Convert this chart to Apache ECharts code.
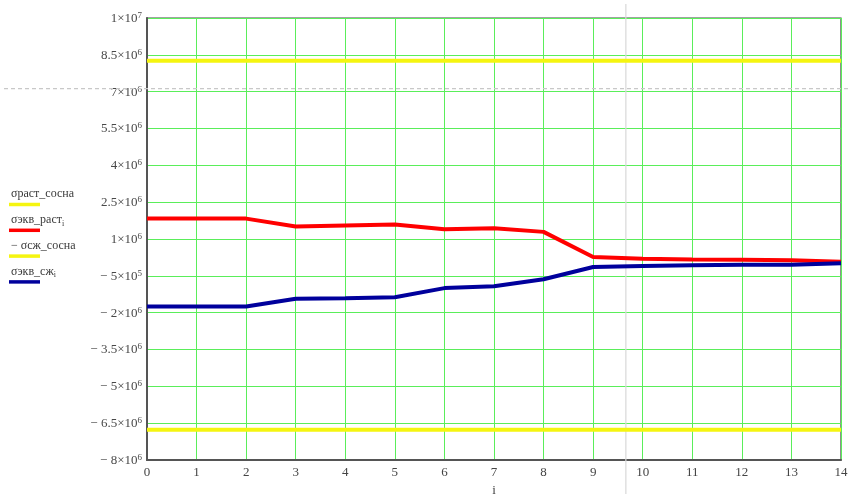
<!DOCTYPE html>
<html>
<head>
<meta charset="utf-8">
<script src="https://cdn.jsdelivr.net/npm/echarts@6/dist/echarts.min.js"></script>
<style>
html,body{margin:0;padding:0;background:#fff;}
#c{width:851px;height:494px;}
</style>
</head>
<body>
<div id="c"></div>
<script>
// ---- data ----
var iValues = [0,1,2,3,4,5,6,7,8,9,10,11,12,13,14];
var sigmaEkvRast = [1.83e6,1.83e6,1.83e6,1.51e6,1.55e6,1.59e6,1.40e6,1.44e6,1.29e6,0.27e6,0.20e6,0.17e6,0.15e6,0.13e6,0.07e6];
var sigmaEkvSzh  = [-1.75e6,-1.75e6,-1.75e6,-1.43e6,-1.41e6,-1.37e6,-1.00e6,-0.92e6,-0.64e6,-0.14e6,-0.10e6,-0.07e6,-0.05e6,-0.05e6,0.015e6];
var sigmaRastSosna = 8.26e6;
var sigmaSzhSosna = 6.77e6;   // plotted as −σсж_сосна
var yTickMin = -8e6, yTickMax = 1e7, yTickStep = 1.5e6;
var xTickMin = 0, xTickMax = 14, xTickStep = 1;
var cursorX = 9.66, cursorY = 7.12e6;
var legendLabels = [
  {t: 'σраст_сосна', sub: ''},
  {t: 'σэкв_раст', sub: 'i'},
  {t: '− σсж_сосна', sub: ''},
  {t: 'σэкв_сж', sub: 'i'}
];
var colors = {yellow:'#f5f510', red:'#ff0000', blue:'#00009c', grid:'#5aee5a', axis:'#555555'};

function pairs(xs, ys){ return xs.map(function(x,k){ return [x, ys[k]]; }); }
function constLine(v){ return [[xTickMin, v],[xTickMax, v]]; }

function fmtY(v){
  if (Math.abs(v) < 1e-9) return '{m|0}';
  var neg = v < 0, a = Math.abs(v);
  var e = Math.floor(Math.log10(a) + 1e-9);
  var m = Math.round(a / Math.pow(10, e) * 10) / 10;
  var ms = (m % 1 === 0) ? String(m) : m.toFixed(1);
  return '{m|' + (neg ? '− ' : '') + ms + '×10}{e|' + e + '}';
}

var serif = '"Liberation Serif","DejaVu Serif",serif';
var chart = echarts.init(document.getElementById('c'), null, {renderer:'canvas'});

var option = {
  animation: false,
  backgroundColor: '#ffffff',
  grid: {left: 147, right: 10, top: 18, bottom: 34, show: true, borderColor: '#444', borderWidth: 1.2,
         containLabel: false, outerBoundsMode: 'none'},
  xAxis: {
    type: 'value', min: xTickMin, max: xTickMax, interval: xTickStep,
    name: 'i', nameLocation: 'middle', nameGap: 21,
    nameTextStyle: {fontFamily: serif, fontSize: 13, color: '#444'},
    axisLine: {show: true, onZero: false, lineStyle: {color: colors.axis, width: 2}},
    axisTick: {show: false},
    axisLabel: {fontFamily: serif, fontSize: 13, color: '#444', margin: 6},
    splitLine: {show: true, lineStyle: {color: colors.grid, width: 1}}
  },
  yAxis: {
    type: 'value', min: yTickMin, max: yTickMax, interval: yTickStep,
    axisLine: {show: true, onZero: false, lineStyle: {color: colors.axis, width: 2}},
    axisTick: {show: false},
    axisLabel: {
      margin: 5,
      formatter: fmtY,
      rich: {
        m: {fontFamily: serif, fontSize: 13, color: '#484848', lineHeight: 14, padding: [8,0,0,0], verticalAlign: 'bottom'},
        e: {fontFamily: serif, fontSize: 9, color: '#484848', lineHeight: 10, verticalAlign: 'top'}
      }
    },
    splitLine: {show: true, lineStyle: {color: colors.grid, width: 1}}
  },
  series: [
    {name: 'σраст_сосна', type: 'line', data: constLine(sigmaRastSosna), showSymbol: false,
     lineStyle: {color: colors.yellow, width: 4}, itemStyle: {color: colors.yellow}},
    {name: '− σсж_сосна', type: 'line', data: constLine(-sigmaSzhSosna), showSymbol: false,
     lineStyle: {color: colors.yellow, width: 4}, itemStyle: {color: colors.yellow}},
    {name: 'σэкв_раст', type: 'line', data: pairs(iValues, sigmaEkvRast), showSymbol: false,
     lineStyle: {color: colors.red, width: 4}, itemStyle: {color: colors.red}},
    {name: 'σэкв_сж', type: 'line', data: pairs(iValues, sigmaEkvSzh), showSymbol: false,
     lineStyle: {color: colors.blue, width: 4}, itemStyle: {color: colors.blue}}
  ]
};
chart.setOption(option);

// cursor cross lines and legend (graphic)
var px = chart.convertToPixel({xAxisIndex: 0}, cursorX);
var py = chart.convertToPixel({yAxisIndex: 0}, cursorY);
var W = 851, H = 494;
var legendColors = [colors.yellow, colors.red, colors.yellow, colors.blue];
var graphics = [
  {type: 'line', shape: {x1: px, y1: 4, x2: px, y2: H}, style: {stroke: '#d8d8d8', lineWidth: 1.2}, z: 1, silent: true},
  {type: 'line', shape: {x1: 4, y1: py, x2: W, y2: py}, style: {stroke: '#c8c8c8', lineWidth: 1.2, lineDash: [4, 3]}, z: 1, silent: true}
];
var legTop = 196, legStep = 25.8;
legendLabels.forEach(function(l, k){
  var y = legTop + k * legStep;
  graphics.push({
    type: 'text', left: 11, top: y - 8, silent: true,
    style: {
      text: '{t|' + l.t + '}' + (l.sub ? '{s|' + l.sub + '}' : ''),
      rich: {
        t: {fontFamily: serif, fontSize: 12, fill: '#3a3a3a', lineHeight: 14, verticalAlign: 'top'},
        s: {fontFamily: serif, fontSize: 8, fill: '#3a3a3a', lineHeight: 14, verticalAlign: 'bottom', padding: [6,0,0,0]}
      }
    }
  });
  graphics.push({
    type: 'line', silent: true,
    shape: {x1: 9, y1: y + 8.5, x2: 40, y2: y + 8.5},
    style: {stroke: legendColors[k], lineWidth: 3.5}
  });
});
chart.setOption({graphic: graphics});
</script>
</body>
</html>
